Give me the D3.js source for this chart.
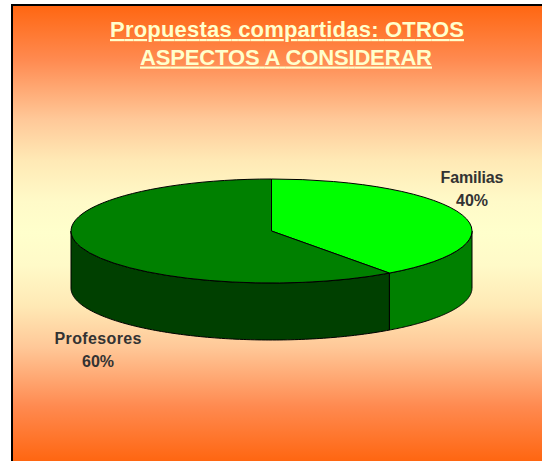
<!DOCTYPE html>
<html><head><meta charset="utf-8">
<script src="https://cdn.jsdelivr.net/npm/d3@7"></script>
<style>html,body{margin:0;padding:0;background:#fff}svg{display:block}text{font-family:"Liberation Sans",Arial,sans-serif;font-weight:bold}</style>
</head><body><svg id="c" width="542" height="461"></svg>
<script>
const categories = ["Familias", "Profesores"];
const values = [40, 60];
const percentLabels = ["40%", "60%"];
const titleLines = ["Propuestas compartidas: OTROS", "ASPECTOS A CONSIDERAR"];
const topColors = ["#00ff00", "#008000"];
const sideColors = ["#008000", "#004000"];

const W = 542, H = 461;
const cx = 271.5, cy = 231, rx = 200.5, ry = 52, depth = 57;
const svg = d3.select("#c");

const defs = svg.append("defs");
const grad = defs.append("linearGradient").attr("id", "bg").attr("x1", 0).attr("x2", 0).attr("y1", 0).attr("y2", 1);
[[0, "#ff6611"], [0.12, "#ff8a50"], [0.25, "#ffc898"], [0.34, "#ffe9b5"], [0.43, "#fffac8"], [0.5, "#ffffcc"],
 [0.57, "#fffac8"], [0.66, "#ffe9b5"], [0.75, "#ffc898"], [0.88, "#ff8a50"], [1, "#ff6611"]]
  .forEach(([o, c]) => grad.append("stop").attr("offset", o).attr("stop-color", c));

svg.append("rect").attr("x", 12).attr("y", 5).attr("width", W + 4).attr("height", H - 5)
  .attr("fill", "url(#bg)");
svg.append("path").attr("d", `M12,${H}V5H${W}`).attr("fill", "none").attr("stroke", "#000").attr("stroke-width", 2);

const pie = d3.pie().sort(null).startAngle(0).endAngle(2 * Math.PI);
const arcs = pie(values);

const px = d3.scaleLinear().domain([-1, 1]).range([cx - rx, cx + rx]);
const py = d3.scaleLinear().domain([-1, 1]).range([cy - ry, cy + ry]);
const X = a => px(Math.sin(a));
const Y = a => py(-Math.cos(a));

// side walls: only the front half (angles pi/2 .. 3pi/2) is visible
const line = d3.line();
arcs.forEach((d, i) => {
  const a0 = Math.max(d.startAngle, Math.PI / 2), a1 = Math.min(d.endAngle, 3 * Math.PI / 2);
  if (a1 <= a0) return;
  const angles = d3.range(0, 121).map(k => a0 + (a1 - a0) * k / 120);
  const pts = angles.map(a => [X(a), Y(a)]).concat(angles.slice().reverse().map(a => [X(a), Y(a) + depth]));
  svg.append("path").attr("d", line(pts) + "Z").attr("fill", sideColors[i])
    .attr("stroke", "#000").attr("stroke-width", 1).attr("stroke-linejoin", "round");
});

// top face
const arc = d3.arc().innerRadius(0).outerRadius(1);
svg.append("g").attr("transform", `translate(${cx},${cy}) scale(${rx},${ry})`)
  .selectAll("path").data(arcs).join("path")
  .attr("d", arc).attr("fill", (d, i) => topColors[i])
  .attr("stroke", "#000").attr("stroke-width", 1).attr("vector-effect", "non-scaling-stroke");

// title
const titleWidth = [354, 292], titleX = [110, 140];
svg.append("g").selectAll("text").data(titleLines).join("text")
  .attr("x", (d, i) => titleX[i]).attr("y", (d, i) => 37 + i * 27.5)
  .attr("textLength", (d, i) => titleWidth[i]).attr("lengthAdjust", "spacing")
  .attr("font-size", 22).attr("fill", "#ffffcc")
  .attr("text-decoration", "underline").text(d => d);

// labels
const labelPos = [[472, 183], [98, 344]];
const nameWidth = [63, 87];
categories.forEach((c, i) => {
  const g = svg.append("g").attr("font-size", 16).attr("fill", "#333333");
  g.append("text").attr("x", labelPos[i][0] - nameWidth[i] / 2).attr("y", labelPos[i][1])
    .attr("textLength", nameWidth[i]).attr("lengthAdjust", "spacing").text(c);
  g.append("text").attr("text-anchor", "middle").attr("x", labelPos[i][0]).attr("y", labelPos[i][1] + 23).text(percentLabels[i]);
});
</script></body></html>
